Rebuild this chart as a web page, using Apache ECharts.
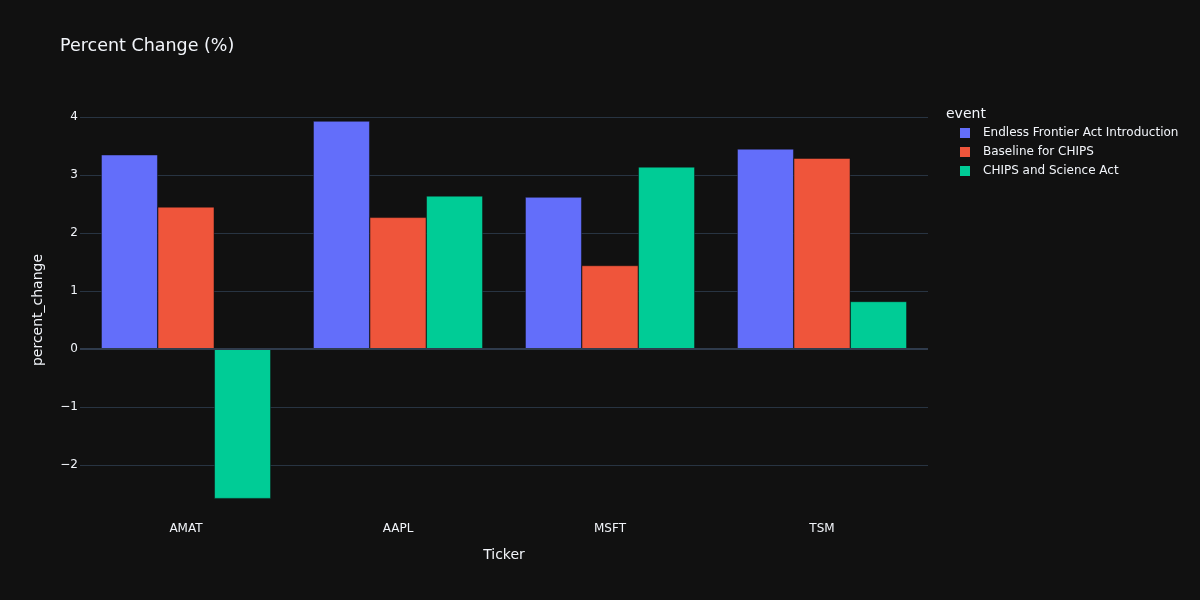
<!DOCTYPE html>
<html>
<head>
<meta charset="utf-8">
<script src="https://cdn.jsdelivr.net/npm/echarts@6/dist/echarts.min.js"></script>
<style>
html,body{margin:0;padding:0;background:#111111;}
#chart{width:1200px;height:600px;}
</style>
</head>
<body>
<div id="chart"></div>
<script>
const categories = ['AMAT', 'AAPL', 'MSFT', 'TSM'];
const seriesNames = ['Endless Frontier Act Introduction', 'Baseline for CHIPS', 'CHIPS and Science Act'];
const endlessFrontier = [3.35, 3.93, 2.62, 3.45];
const baselineChips = [2.45, 2.27, 1.44, 3.29];
const chipsScience = [-2.58, 2.64, 3.14, 0.82];
const colors = ['#636efa', '#EF553B', '#00cc96'];

const font = 'DejaVu Sans, Verdana, sans-serif';
const textColor = '#f2f5fa';
const gridColor = '#283442';

const values = [endlessFrontier, baselineChips, chipsScience];

const chart = echarts.init(document.getElementById('chart'), null, {renderer: 'canvas'});
const series = seriesNames.map((name, i) => ({
  name: name,
  type: 'bar',
  data: values[i],
  barGap: '0%',
  barCategoryGap: '20%',
  itemStyle: {color: colors[i], borderColor: '#111111', borderWidth: 0.5},
  emphasis: {disabled: true},
  markLine: i === 0 ? {
    silent: true,
    symbol: ['none', 'none'],
    label: {show: false},
    lineStyle: {color: '#2f3b4c', width: 2, type: 'solid'},
    data: [{yAxis: 0}]
  } : undefined
}));

chart.setOption({
  backgroundColor: '#111111',
  animation: false,
  color: colors,
  title: [
    {text: 'Percent Change (%)', left: 55, top: 32,
     textStyle: {color: textColor, fontSize: 17.5, fontWeight: 'normal', fontFamily: font}},
    {text: 'event', left: 941, top: 102,
     textStyle: {color: textColor, fontSize: 14, fontWeight: 'normal', fontFamily: font}}
  ],
  legend: {
    orient: 'vertical',
    left: 953,
    top: 121,
    icon: 'rect',
    itemWidth: 12,
    itemHeight: 12,
    itemGap: 5,
    data: seriesNames,
    textStyle: {color: textColor, fontSize: 12, fontFamily: font, padding: [0, 0, 0, 7]}
  },
  grid: {left: 80, right: 272, top: 100, bottom: 80},
  xAxis: {
    type: 'category',
    data: categories,
    position: 'bottom',
    axisLine: {show: false, onZero: false},
    axisTick: {show: false},
    axisLabel: {color: textColor, fontSize: 12, fontFamily: font, margin: 3},
    splitLine: {show: false},
    name: 'Ticker',
    nameLocation: 'middle',
    nameGap: 28,
    nameTextStyle: {color: textColor, fontSize: 14, fontFamily: font}
  },
  yAxis: {
    type: 'value',
    min: -2.948,
    max: 4.293,
    minInterval: 1,
    maxInterval: 1,
    axisLine: {show: false},
    axisTick: {show: false},
    axisLabel: {
      color: textColor, fontSize: 12, fontFamily: font, margin: 2,
      showMinLabel: false, showMaxLabel: false,
      formatter: v => Math.abs(v - Math.round(v)) < 1e-6 ? (v < 0 ? '\u2212' + Math.abs(v) : String(v)) : ''
    },
    splitLine: {show: true, showMinLine: false, showMaxLine: false, lineStyle: {color: gridColor, width: 1}},
    name: 'percent_change',
    nameLocation: 'middle',
    nameGap: 35,
    nameTextStyle: {color: textColor, fontSize: 14, fontFamily: font}
  },
  series: series
});
</script>
</body>
</html>
